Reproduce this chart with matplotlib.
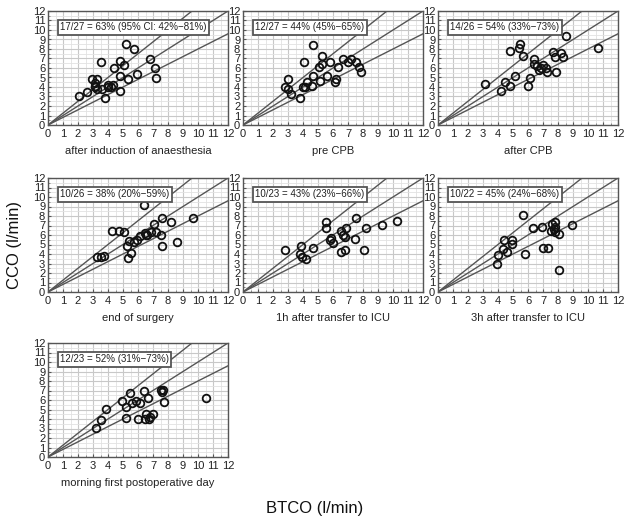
import matplotlib
matplotlib.use("Agg")
import matplotlib.pyplot as plt
import numpy as np

plt.rcParams['font.family'] = ['Liberation Sans', 'DejaVu Sans']

titles = ["after induction of anaesthesia", "pre CPB", "after CPB",
          "end of surgery", "1h after transfer to ICU", "3h after transfer to ICU",
          "morning first postoperative day"]
labels = ["17/27 = 63% (95% CI: 42%\u221281%)", "12/27 = 44% (45%\u221265%)",
          "14/26 = 54% (33%\u221273%)", "10/26 = 38% (20%\u221259%)",
          "10/23 = 43% (23%\u221266%)", "10/22 = 45% (24%\u221268%)",
          "12/23 = 52% (31%\u221273%)"]

btco_1 = [2.09, 2.6, 2.94, 3.25, 3.14, 3.14, 3.25, 3.52, 3.6, 3.8, 3.97, 3.97, 4.33, 4.37,
          4.78, 4.78, 4.82, 5.04, 5.2, 5.3, 5.7, 5.94, 6.77, 7.1, 7.2, 3.1, 4.2]
cco_1 = [3.1, 3.5, 4.84, 4.84, 4.4, 4.0, 3.8, 6.6, 3.8, 2.8, 4.0, 4.2, 4.2, 6.0,
         3.6, 5.2, 6.7, 6.3, 8.55, 4.84, 7.95, 5.4, 6.9, 6.0, 4.95, 4.1, 4.0]

btco_2 = [4.69, 4.09, 5.29, 5.07, 5.27, 5.82, 6.31, 6.69, 7.02, 7.22, 7.51, 7.73, 7.87,
          2.98, 2.82, 3.0, 3.22, 3.8, 4.11, 4.29, 4.58, 4.67, 5.11, 5.6, 6.16, 6.18, 4.0]
cco_2 = [8.37, 6.6, 7.24, 6.08, 6.43, 6.6, 6.11, 6.9, 6.6, 6.96, 6.68, 6.11, 5.55,
         4.88, 4.0, 3.78, 3.25, 2.8, 4.0, 4.52, 4.13, 5.12, 4.6, 5.2, 4.56, 4.84, 3.95]

btco_3 = [3.11, 4.2, 4.44, 4.78, 4.78, 5.16, 5.44, 5.38, 5.67, 5.98, 6.11, 6.4, 6.4,
          6.58, 6.71, 6.89, 7.02, 7.22, 7.29, 7.69, 7.82, 7.87, 8.22, 8.36, 8.56, 10.67]
cco_3 = [4.35, 3.53, 4.52, 4.06, 7.77, 5.19, 8.48, 8.06, 7.24, 4.06, 4.95, 6.9, 6.47,
         6.18, 5.83, 6.0, 6.33, 6.0, 5.55, 7.67, 7.17, 5.62, 7.6, 7.17, 9.36, 8.13]

btco_4 = [3.27, 3.53, 3.71, 4.29, 4.71, 5.07, 6.4, 5.27, 5.4, 5.33, 5.56, 5.73, 5.96,
          6.16, 6.44, 6.6, 6.89, 7.04, 7.22, 7.51, 7.6, 7.58, 8.22, 8.62, 9.67, 6.5]
cco_4 = [3.69, 3.69, 3.79, 6.38, 6.38, 6.28, 9.14, 4.83, 5.34, 3.62, 4.07, 5.28, 5.52,
         5.9, 6.21, 5.97, 6.31, 7.21, 6.31, 5.97, 7.76, 4.79, 7.41, 5.28, 7.76, 6.0]

btco_5 = [2.78, 3.89, 3.78, 3.93, 4.2, 4.64, 5.51, 5.51, 5.78, 5.89, 6.0, 6.56, 6.78,
          6.56, 6.67, 6.89, 6.82, 7.49, 7.56, 8.18, 8.09, 9.27, 10.29]
cco_5 = [4.41, 4.83, 4.03, 3.69, 3.52, 4.59, 7.34, 6.72, 5.52, 5.69, 5.17, 4.24, 4.41,
         6.38, 6.03, 6.72, 5.76, 5.59, 7.76, 6.72, 4.41, 7.07, 7.52]

btco_6 = [3.96, 4.0, 4.4, 4.36, 4.62, 4.93, 4.96, 5.67, 5.82, 6.33, 6.93, 7.0, 7.33,
          7.53, 7.6, 7.78, 7.82, 7.82, 8.09, 8.04, 8.93, 7.7]
cco_6 = [2.9, 3.9, 5.45, 4.48, 4.24, 5.45, 5.07, 8.1, 3.97, 6.72, 6.83, 4.59, 4.59,
         6.45, 7.17, 7.41, 6.86, 6.31, 6.1, 2.34, 7.07, 6.6]

btco_7 = [3.22, 3.51, 3.84, 4.91, 5.49, 5.22, 5.62, 5.89, 6.16, 6.4, 6.64, 5.18, 5.98,
          6.56, 6.49, 6.71, 6.8, 7.0, 7.6, 7.67, 7.76, 10.51, 7.55]
cco_7 = [3.06, 3.87, 5.09, 5.9, 6.78, 5.3, 5.69, 5.87, 5.65, 6.96, 6.18, 4.13, 3.99,
         4.52, 3.95, 3.95, 4.17, 4.52, 6.89, 7.03, 5.76, 6.18, 7.1]

btco = [btco_1, btco_2, btco_3, btco_4, btco_5, btco_6, btco_7]
cco = [cco_1, cco_2, cco_3, cco_4, cco_5, cco_6, cco_7]

# reference lines: upper limit, identity, lower limit
slopes = [1.25, 1.0, 0.8]

W, H = 629, 517
lefts = [48, 243, 438]
bottoms = [125, 292, 457]
aw, ah = 180, 114

fig = plt.figure(figsize=(W / 100, H / 100), dpi=100)

for i in range(7):
    r, c = divmod(i, 3)
    ax = fig.add_axes([lefts[c] / W, 1 - bottoms[r] / H, aw / W, ah / H])
    ax.set_xlim(0, 12)
    ax.set_ylim(0, 12)
    ax.set_xticks(range(13))
    ax.set_yticks(range(13))
    ax.set_xticks(np.arange(0, 12.01, 0.5), minor=True)
    ax.set_yticks(np.arange(0, 12.01, 0.5), minor=True)
    ax.grid(True, which='major', color='#c8c8c8', lw=0.8)
    ax.grid(True, which='minor', color='#e2e2e2', lw=0.6)
    ax.set_axisbelow(True)
    ax.tick_params(which='major', direction='in', length=2.5, labelsize=8, pad=3,
                   labelcolor='#222222', color='#555555')
    ax.tick_params(which='minor', direction='in', length=1.5, color='#777777')
    ax.tick_params(axis='y', pad=2)
    for s in ax.spines.values():
        s.set_color('#555555')
        s.set_linewidth(1.0)
    xx = np.array([0, 12.0])
    for k in slopes:
        ax.plot(xx, k * xx, color='#555555', lw=1.0, zorder=2)
    ax.plot(btco[i], cco[i], 'o', mfc='none', mec='#111111', mew=1.3, ms=5.5, zorder=3)
    ax.text(0.8, 10.3, labels[i], fontsize=7, va='center', ha='left', color='#222222',
            bbox=dict(boxstyle='square,pad=0.25', fc='white', ec='#555555', lw=1.3),
            zorder=4)
    ax.set_xlabel(titles[i], fontsize=8, color='#222222', labelpad=5)

fig.text(15 / W, 1 - 245 / H, "CCO (l/min)", rotation=90, fontsize=12,
         ha='center', va='center', color='#111111')
fig.text(315 / W, 1 - 508 / H, "BTCO (l/min)", fontsize=12,
         ha='center', va='center', color='#111111')

fig.savefig("out.png", dpi=100)
